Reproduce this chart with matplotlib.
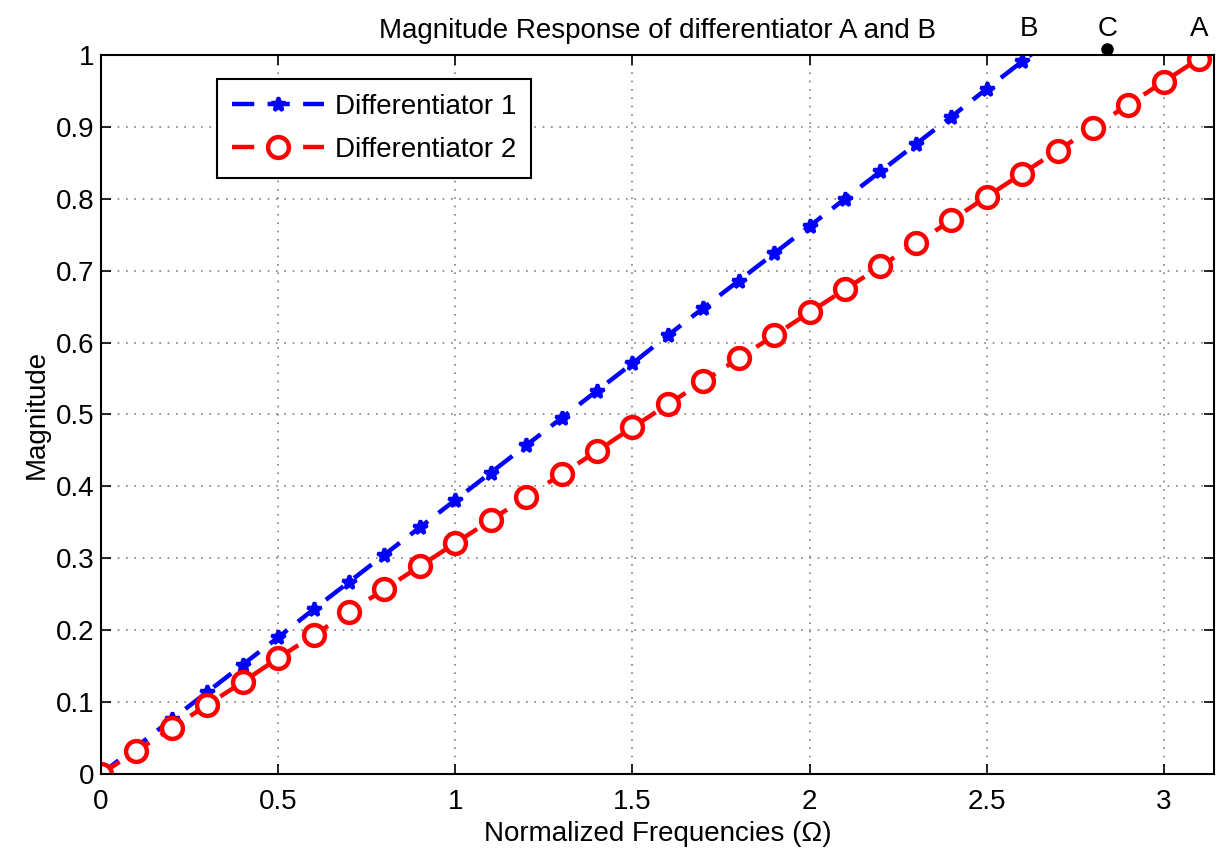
import matplotlib.pyplot as plt

plt.rcParams['font.family'] = ['Liberation Sans', 'DejaVu Sans']

freq1 = [0.0, 0.1, 0.2, 0.3, 0.4, 0.5, 0.6, 0.7, 0.8, 0.9, 1.0, 1.1, 1.2, 1.3,
         1.4, 1.5, 1.6, 1.7, 1.8, 1.9, 2.0, 2.1, 2.2, 2.3, 2.4, 2.5, 2.6, 2.7]
mag1 = [0.0, 0.038, 0.076, 0.114, 0.152, 0.19, 0.229, 0.267, 0.305, 0.343,
        0.381, 0.419, 0.457, 0.495, 0.533, 0.571, 0.61, 0.648, 0.686, 0.724,
        0.762, 0.8, 0.838, 0.876, 0.914, 0.953, 0.991, 1.029]

freq2 = [0.0, 0.1, 0.2, 0.3, 0.4, 0.5, 0.6, 0.7, 0.8, 0.9, 1.0, 1.1, 1.2, 1.3,
         1.4, 1.5, 1.6, 1.7, 1.8, 1.9, 2.0, 2.1, 2.2, 2.3, 2.4, 2.5, 2.6, 2.7,
         2.8, 2.9, 3.0, 3.1]
mag2 = [0.0, 0.032, 0.064, 0.096, 0.128, 0.161, 0.193, 0.225, 0.257, 0.289,
        0.321, 0.353, 0.385, 0.417, 0.449, 0.482, 0.514, 0.546, 0.578, 0.61,
        0.642, 0.674, 0.706, 0.738, 0.77, 0.803, 0.835, 0.867, 0.899, 0.931,
        0.963, 0.995]

labels = ["B", "C", "A"]
label_x = [2.62, 2.84, 3.10]
c_point = (2.84, 1.008)

fig = plt.figure(figsize=(12.21, 8.51), dpi=100)
ax = fig.add_axes([0.0827, 0.0905, 0.9116, 0.8449])

ax.plot(freq1, mag1, color='blue', linestyle='--', dashes=(5, 3), lw=3.2,
        marker='*', ms=10, mew=2.5, label='Differentiator 1')
ax.plot(freq2, mag2, color='red', linestyle='--', dashes=(5, 3), lw=3.2,
        marker='o', ms=15, mew=3.2, mfc='white', label='Differentiator 2')

ax.set_xlim(0, 3.1416)
ax.set_ylim(0, 1)
ax.set_xticks([0, 0.5, 1, 1.5, 2, 2.5, 3])
ax.set_xticklabels(["0", "0.5", "1", "1.5", "2", "2.5", "3"])
ax.set_yticks([i / 10 for i in range(11)])
ax.set_yticklabels(["0", "0.1", "0.2", "0.3", "0.4", "0.5", "0.6", "0.7", "0.8", "0.9", "1"])
ax.tick_params(direction='in', top=True, right=True, length=7, width=1.2,
               labelsize=20)
ax.tick_params(axis='x', pad=11)
ax.tick_params(axis='y', pad=5)
ax.grid(True, linestyle=(0, (1, 4)), color='gray', lw=1.2)
for s in ax.spines.values():
    s.set_linewidth(1.5)

ax.set_title("Magnitude Response of differentiator A and B", fontsize=20, pad=12)
ax.set_xlabel("Normalized Frequencies (Ω)", fontsize=20, labelpad=4)
ax.set_ylabel("Magnitude", fontsize=20, labelpad=4)

for t, x in zip(labels, label_x):
    ax.text(x, 1.018, t, fontsize=20, ha='center', va='bottom', clip_on=False)
ax.plot(*c_point, 'o', color='black', ms=8, clip_on=False)

leg = ax.legend(loc='upper left', bbox_to_anchor=(0.104, 0.967), fontsize=20,
                handlelength=3.3, handletextpad=0.4, fancybox=False,
                edgecolor='black', framealpha=1, borderpad=0.55,
                labelspacing=0.6, borderaxespad=0)
leg.get_frame().set_linewidth(1.5)

fig.savefig("out.png", dpi=100)
